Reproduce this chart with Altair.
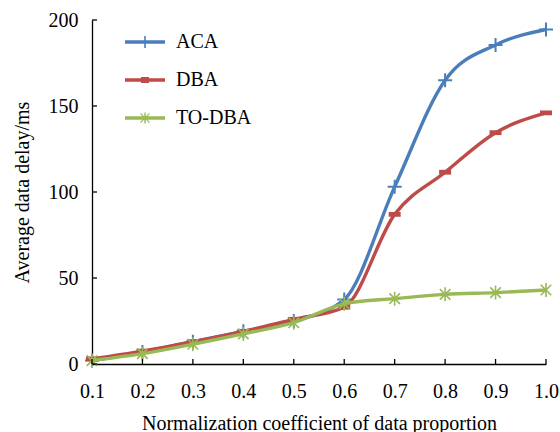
import altair as alt
import pandas as pd

# ---- data ----
x_vals = [0.1, 0.2, 0.3, 0.4, 0.5, 0.6, 0.7, 0.8, 0.9, 1.0]
aca = [2, 7, 13, 19, 25, 37.5, 103, 165, 185.5, 194.5]
dba = [3, 7.5, 13, 19, 26, 33, 87, 111.5, 134.5, 146]
todba = [2, 6, 11.5, 17.5, 24, 35, 38, 40.5, 41.5, 43]
series_names = ["ACA", "DBA", "TO-DBA"]
series_colors = ["#4a7ebb", "#be4b48", "#98b954"]
y_ticks = [0, 50, 100, 150, 200]
x_ticks = x_vals

rows = []
for name, vals in zip(series_names, [aca, dba, todba]):
    for xv, yv in zip(x_vals, vals):
        rows.append({"x": xv, "y": yv, "series": name})
df = pd.DataFrame(rows)

FONT = "Liberation Serif"

xscale = alt.Scale(domain=[0.1, 1.0], nice=False, zero=False)
yscale = alt.Scale(domain=[0, 200], nice=False)
cscale = alt.Scale(domain=series_names, range=series_colors)

x_axis = alt.Axis(values=x_ticks, format=".1f", title="Normalization coefficient of data proportion",
                  labelPadding=17, titlePadding=12, labelFlush=False, labelBound=False)
y_axis = alt.Axis(values=y_ticks, title="Average data delay/ms", labelPadding=14, titlePadding=16)
X = alt.X("x:Q", scale=xscale, axis=x_axis)
Y = alt.Y("y:Q", scale=yscale, axis=y_axis)

# marker shapes (unit paths)
plus_path = "M-1,0L1,0M0,-1L0,1"
star_path = "M0,-1L0,1M-0.75,-0.75L0.75,0.75M-0.75,0.75L0.75,-0.75"
dash_path = "M-1,-0.4L1,-0.4L1,0.4L-1,0.4Z"

# legend symbols: line + marker
leg_line = "M-2,-0.17H2V0.17H-2Z"
legend_paths = [
    leg_line + "M-0.08,-0.6H0.08V0.6H-0.08Z",
    leg_line + "M-0.4,-0.3H0.4V0.3H-0.4Z",
    leg_line + "M-0.07,-0.55H0.07V0.55H-0.07Z"
    "M-0.5,-0.42L-0.42,-0.5L0.5,0.42L0.42,0.5Z"
    "M-0.5,0.42L0.42,-0.5L0.5,-0.42L-0.42,0.5Z",
]

leg = alt.Legend(title=None, orient="none", legendX=43, legendY=12, symbolSize=400,
                 labelOffset=21, rowPadding=18, labelFontSize=20, labelFont=FONT,
                 labelColor="black", symbolStrokeWidth=0, symbolOpacity=1,
                 padding=0, labelLimit=0)
C = alt.Color("series:N", scale=cscale, legend=leg)

layers = []
marker_specs = {
    "ACA": dict(shape=plus_path, filled=False, size=196, strokeWidth=2),
    "DBA": dict(shape=dash_path, filled=True, size=144, strokeWidth=0),
    "TO-DBA": dict(shape=star_path, filled=False, size=196, strokeWidth=1.6),
}
for name in series_names:
    line = alt.Chart(df).transform_filter(alt.datum.series == name).mark_line(
        interpolate="monotone", strokeWidth=3.4
    ).encode(x=X, y=Y, color=C)
    pts = alt.Chart(df).transform_filter(alt.datum.series == name).mark_point(
        opacity=1, **marker_specs[name]
    ).encode(x=X, y=Y, color=C)
    layers += [line, pts]

ytick_df = pd.DataFrame({"y": y_ticks})
xtick_df = pd.DataFrame({"x": x_ticks})
yt = alt.Chart(ytick_df).mark_rule(color="black", strokeWidth=1.3).encode(
    y=Y, x=alt.value(0), x2=alt.value(5))
xt = alt.Chart(xtick_df).mark_rule(color="black", strokeWidth=1.3).encode(
    x=X, y=alt.value(344), y2=alt.value(339))

legend_layer = alt.Chart(df).mark_point(filled=True, opacity=0).encode(
    x=X, y=Y, color=C,
    shape=alt.Shape("series:N", scale=alt.Scale(domain=series_names, range=legend_paths), legend=leg),
)

chart = alt.layer(*layers, yt, xt, legend_layer).properties(
    width=454, height=344,
    autosize=alt.AutoSizeParams(type="none"),
    padding={"left": 92, "top": 20, "right": 14, "bottom": 68},
).configure(font=FONT, background="white").configure_view(stroke=None).configure_axis(
    grid=False, ticks=False, domainColor="black", domainWidth=1.3,
    labelFontSize=20, labelColor="black", labelFont=FONT,
    titleFontSize=20, titleFontWeight="normal", titleColor="black", titleFont=FONT,
)

chart.save("out.html", embed_options={"renderer": "svg", "actions": False})
